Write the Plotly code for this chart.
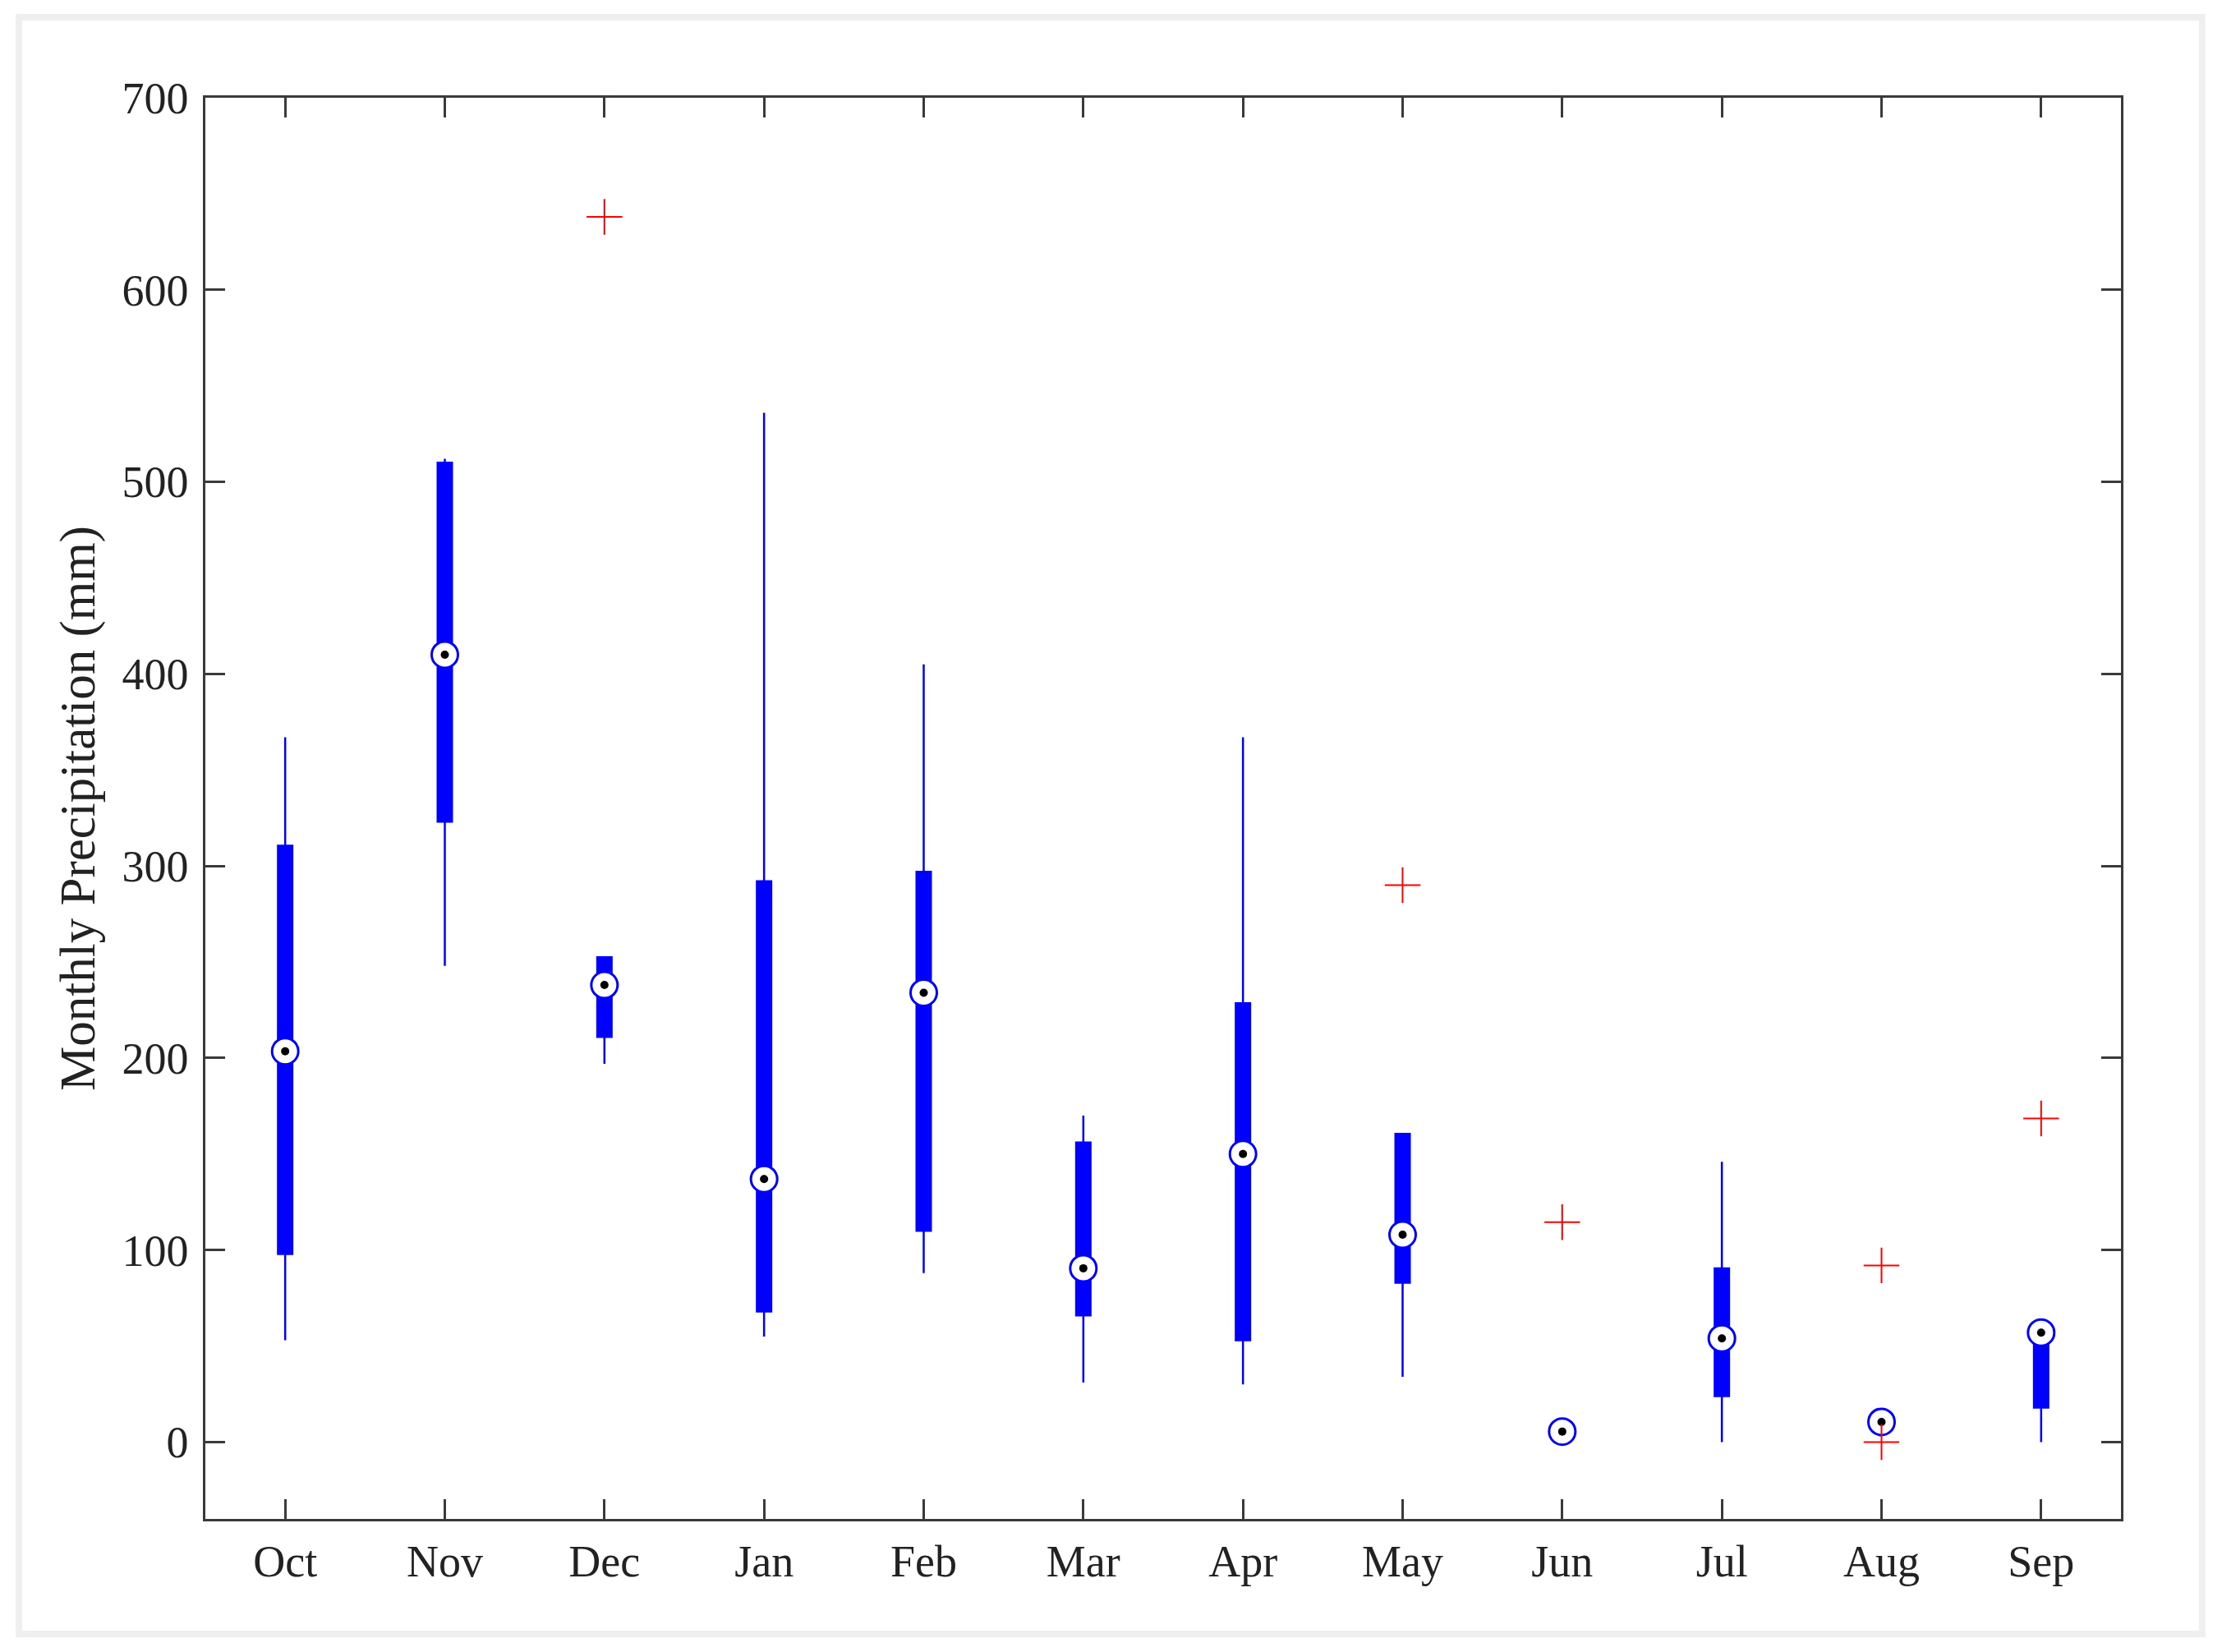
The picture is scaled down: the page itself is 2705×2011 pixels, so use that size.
import plotly.graph_objects as go

# ---------------------------------------------------------------------------
# Monthly precipitation box statistics (mm)
# ---------------------------------------------------------------------------
months = ["Oct", "Nov", "Dec", "Jan", "Feb", "Mar", "Apr", "May", "Jun", "Jul", "Aug", "Sep"]
lower_whisker = [53, 248, 197, 55, 88, 31, 30, 34, 0, 0, 5, 0]
q1 = [98, 323, 211, 68, 110, 66, 53, 83, 1, 24, 7, 18]
median = [203.5, 410, 238, 137, 234, 90.5, 150, 108, 5.5, 54, 10.5, 57]
q3 = [310.5, 510, 252.5, 292, 297, 156, 228.5, 160.5, 10, 90.5, 14, 57]
upper_whisker = [367, 512, 252.5, 536, 405, 170, 367, 160.5, 11, 146, 16, 57]

outlier_month = ["Dec", "May", "Jun", "Aug", "Aug", "Sep"]
outlier_value = [638, 290, 114.5, 92, 0, 168.5]

y_ticks = [0, 100, 200, 300, 400, 500, 600, 700]

BLUE = "#0000ff"
AXIS = "#3a3a3a"
FONT = "Liberation Serif"

fig = go.Figure()

# compact-style boxes: solid blue bar, thin whiskers, no caps
fig.add_trace(go.Box(
    x=months,
    q1=q1, median=median, q3=q3,
    lowerfence=lower_whisker, upperfence=upper_whisker,
    boxpoints=False,
    fillcolor=BLUE,
    line=dict(color=BLUE, width=2.5),
    whiskerwidth=0,
    width=0.09,
    showlegend=False,
    hoverinfo="skip",
))

# median: white circle with blue outline and black centre dot
fig.add_trace(go.Scatter(
    x=months, y=median,
    mode="markers",
    marker=dict(symbol="circle", size=32, color="white",
                line=dict(color=BLUE, width=3)),
    showlegend=False, hoverinfo="skip",
))
fig.add_trace(go.Scatter(
    x=months, y=median,
    mode="markers",
    marker=dict(symbol="circle", size=10, color="black"),
    showlegend=False, hoverinfo="skip",
))

# outliers
fig.add_trace(go.Scatter(
    x=outlier_month, y=outlier_value,
    mode="markers",
    marker=dict(symbol="cross-thin", size=31,
                line=dict(color="#ff0000", width=2)),
    showlegend=False, hoverinfo="skip",
))

# light grey frame around the whole figure
fig.add_shape(
    type="rect", xref="paper", yref="paper",
    x0=-0.0973, x1=1.0424, y0=-0.0809, y1=1.0566,
    line=dict(color="#efefef", width=8), fillcolor="rgba(0,0,0,0)",
    layer="below",
)

fig.update_layout(
    width=2705, height=2011,
    margin=dict(l=250, r=123, t=119, b=162),
    paper_bgcolor="white",
    plot_bgcolor="white",
    font=dict(family=FONT, size=54, color="#222222"),
    showlegend=False,
)
fig.update_xaxes(
    type="category",
    categoryorder="array", categoryarray=months,
    range=[-0.5, 11.5],
    showgrid=False, zeroline=False,
    showline=True, linecolor=AXIS, linewidth=2.5, mirror="ticks",
    ticks="inside", ticklen=24, tickwidth=2.5, tickcolor=AXIS,
    ticklabelstandoff=2,
    tickfont=dict(family=FONT, size=54, color="#222222"),
)
fig.update_yaxes(
    range=[-40, 700],
    tickvals=y_ticks,
    showgrid=False, zeroline=False,
    showline=True, linecolor=AXIS, linewidth=2.5, mirror="ticks",
    ticks="inside", ticklen=24, tickwidth=2.5, tickcolor=AXIS,
    ticklabelstandoff=7,
    tickfont=dict(family=FONT, size=54, color="#222222"),
    title=dict(text="Monthly Precipitation (mm)", standoff=14,
               font=dict(family=FONT, size=61, color="#222222")),
)

fig.write_html(
    "out.html",
    config={"displayModeBar": False},
    post_script="document.body.style.margin='0px';",
)
